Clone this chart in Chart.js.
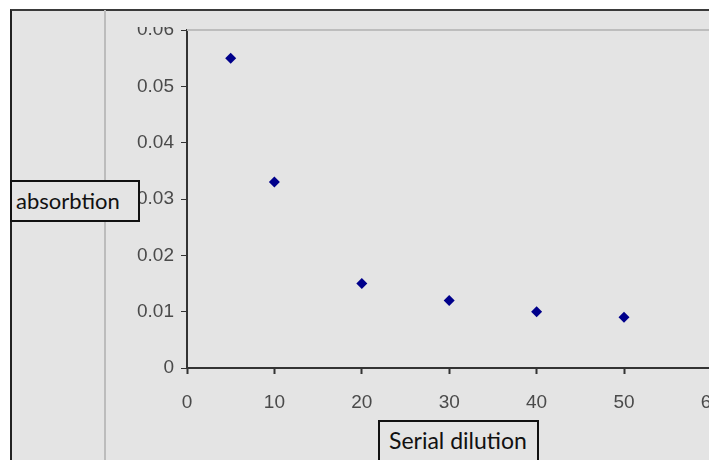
<!DOCTYPE html>
<html lang="en">
<head>
    <meta charset="UTF-8">
    <title>Absorbtion vs serial dilution</title>
    <script src="https://cdn.jsdelivr.net/npm/chart.js"></script>
    <style>
        html, body {
            margin: 0;
            padding: 0;
            width: 709px;
            height: 460px;
            overflow: hidden;
            background-color: #ffffff;
        }
        .frame {
            position: absolute;
            left: 10px;
            top: 9px;
            width: 740px;
            height: 470px;
            background-color: #e4e4e4;
            border-top: 2px solid #3a3a3a;
            border-left: 2px solid #222;
        }
        .divider {
            position: absolute;
            left: 104px;
            top: 10px;
            width: 2px;
            height: 460px;
            background-color: #bcbcbc;
        }
        #chartBox {
            position: absolute;
            left: 0;
            top: 0;
        }
        .label-box {
            position: absolute;
            border: 2px solid #111;
            background-color: #e4e4e4;
            font-family: Lato, "Open Sans", sans-serif;
            color: #111;
            box-sizing: border-box;
        }
        #yTitle {
            left: 10px;
            top: 180px;
            width: 130px;
            height: 42px;
            font-size: 22px;
            line-height: 38px;
            padding-left: 4px;
        }
        #xTitle {
            left: 378px;
            top: 420px;
            width: 161px;
            height: 60px;
            font-size: 23px;
            line-height: 37px;
            padding-left: 9px;
        }
    </style>
</head>
<body>
    <div class="frame"></div>
    <div class="divider"></div>
    <div id="chartBox">
        <canvas id="scatterChart" width="739" height="460"></canvas>
    </div>
    <div class="label-box" id="yTitle">absorbtion</div>
    <div class="label-box" id="xTitle">Serial dilution</div>

    <script>
        // values
        const dilution = [5, 10, 20, 30, 40, 50];
        const absorbtion = [0.055, 0.033, 0.015, 0.012, 0.010, 0.009];

        const points = dilution.map((d, i) => ({ x: d, y: absorbtion[i] }));

        const tickFont = {
            family: "'Liberation Sans', Arial, sans-serif",
            size: 19
        };

        // light grey line on top of the plot area, and the clipped top label
        const plotTop = {
            id: 'plotTop',
            afterDraw(chart) {
                const { ctx, chartArea } = chart;
                ctx.save();
                ctx.strokeStyle = '#bdbdbd';
                ctx.lineWidth = 2;
                ctx.beginPath();
                ctx.moveTo(chartArea.left, chartArea.top);
                ctx.lineTo(chart.width, chartArea.top);
                ctx.stroke();
                ctx.fillStyle = '#e4e4e4';
                ctx.fillRect(120, 12, chartArea.left - 125, chartArea.top - 3 - 12);
                ctx.restore();
            }
        };

        const ctx = document.getElementById('scatterChart').getContext('2d');
        new Chart(ctx, {
            type: 'scatter',
            data: {
                datasets: [{
                    label: 'absorbtion',
                    data: points,
                    pointStyle: 'rectRot',
                    pointRadius: 5.5,
                    pointHoverRadius: 5.5,
                    backgroundColor: '#00008b',
                    borderColor: '#00008b',
                    borderWidth: 0
                }]
            },
            options: {
                responsive: false,
                animation: false,
                layout: {
                    padding: { left: 0, right: 9, top: 30, bottom: 0 }
                },
                plugins: {
                    legend: { display: false },
                    tooltip: { enabled: false }
                },
                scales: {
                    x: {
                        type: 'linear',
                        min: 0,
                        max: 60,
                        afterFit(scale) { scale.height = 92; },
                        ticks: {
                            stepSize: 10,
                            color: '#4a4a4a',
                            font: tickFont,
                            padding: 17,
                            maxRotation: 0
                        },
                        grid: {
                            drawOnChartArea: false,
                            drawTicks: true,
                            tickLength: 6,
                            tickColor: '#333',
                            tickWidth: 2
                        },
                        border: { color: '#333', width: 2 }
                    },
                    y: {
                        min: 0,
                        max: 0.06,
                        afterFit(scale) { scale.width = 187; },
                        ticks: {
                            stepSize: 0.01,
                            color: '#4a4a4a',
                            font: tickFont,
                            padding: 7,
                            callback: v => v === 0 ? '0' : v.toFixed(2)
                        },
                        grid: {
                            drawOnChartArea: false,
                            drawTicks: true,
                            tickLength: 6,
                            tickColor: '#333',
                            tickWidth: 1
                        },
                        border: { color: '#333', width: 2 }
                    }
                }
            },
            plugins: [plotTop]
        });
    </script>
</body>
</html>
